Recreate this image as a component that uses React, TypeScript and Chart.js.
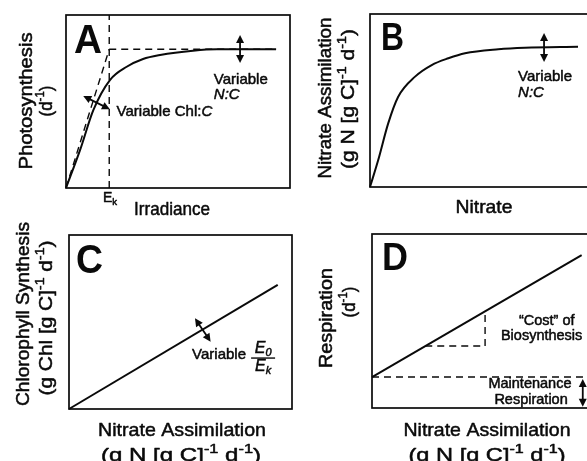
import React, { useEffect, useRef } from "react";
import { Chart, registerables } from "chart.js";
Chart.register(...registerables);

const W = 600;
const H = 461;
const FONT = '"Liberation Sans", Arial, Helvetica, sans-serif';

// ---------- Panel A: photosynthesis vs irradiance ----------
const A_IRRADIANCE = [0, 6.3, 12.2, 19.6, 27.1, 34.4, 42, 56.7, 67.4, 93.8];
const A_PHOTOSYNTHESIS = [0, 22, 45, 62.4, 70.1, 74.6, 76.9, 79.4, 80.2, 80.2];
const A_EK = 19.3;
const A_PMAX = 80.2;
const A_PMAX_END = 93.8;
const A_CHL_ARROW = [[7.7, 53.2], [19.6, 45.5]];
const A_NC_ARROW = [[77.7, 88.4], [77.7, 72.3]];

// ---------- Panel B: nitrate assimilation vs nitrate ----------
const B_NITRATE = [0, 3.7, 8.2, 12.7, 20.3, 27.8, 35.3, 42.8, 57.8, 69.8, 93.7];
const B_ASSIMILATION = [0, 15.6, 36.8, 52.2, 63.8, 70.5, 74.4, 77.3, 79.6, 80.5, 81.1];
const B_NC_ARROW = [[78.4, 89], [78.4, 72.3]];

// ---------- Panel C: chlorophyll synthesis vs nitrate assimilation ----------
const C_ASSIMILATION = [0, 93.6];
const C_CHL_SYNTHESIS = [0, 71.3];
const C_ARROW = [[56.5, 52.1], [63.5, 38.7]];

// ---------- Panel D: respiration vs nitrate assimilation ----------
const D_ASSIMILATION = [0, 95.3];
const D_RESPIRATION = [17.8, 87.9];
const D_MAINTENANCE = 17.8;
const D_MAINT_END = 95.9;
const D_COST_X = [24.2, 51.4, 51.4];
const D_COST_Y = [35.6, 35.6, 55.6];
const D_MAINT_ARROW = [[95.8, 16.7], [95.8, 0.7]];

type Seg = { t: string; sup?: boolean; sub?: boolean; it?: boolean };
type Txt = {
  segs: Seg[];
  x: number;
  y: number;
  size: number;
  align?: "left" | "center";
  rot?: boolean;
  data?: boolean;
  bold?: boolean;
  baseline?: CanvasTextBaseline;
  w?: number;
};
type Panel = {
  area: [number, number, number, number];
  datasets: any[];
  arrows: number[][][];
  texts: Txt[];
  extra?: (ctx: CanvasRenderingContext2D, px: (v: number) => number, py: (v: number) => number) => void;
};

const INK = "#0a0a0a";

function segFont(s: Seg, size: number, bold?: boolean) {
  const small = s.sup || s.sub;
  const sz = small ? size * 0.68 : size;
  return `${s.it ? "italic " : ""}${bold ? "bold " : ""}${sz}px ${FONT}`;
}

function drawRich(ctx: CanvasRenderingContext2D, t: Txt, x: number, y: number) {
  ctx.save();
  ctx.translate(x, y);
  if (t.rot) ctx.rotate(-Math.PI / 2);
  ctx.fillStyle = INK;
  ctx.strokeStyle = INK;
  ctx.lineWidth = t.bold ? 0 : 0.5;
  ctx.lineJoin = "round";
  ctx.textAlign = "left";
  ctx.textBaseline = t.baseline || "middle";
  let total = 0;
  for (const s of t.segs) {
    ctx.font = segFont(s, t.size, t.bold);
    total += ctx.measureText(s.t).width;
  }
  if (t.w) ctx.scale(t.w / total, 1);
  let cx = t.align === "center" || t.align === undefined ? -total / 2 : 0;
  for (const s of t.segs) {
    ctx.font = segFont(s, t.size, t.bold);
    const dy = s.sup ? -t.size * 0.33 : s.sub ? t.size * 0.28 : 0;
    ctx.fillText(s.t, cx, dy);
    if (!t.bold) ctx.strokeText(s.t, cx, dy);
    cx += ctx.measureText(s.t).width;
  }
  ctx.restore();
}

function drawArrow(ctx: CanvasRenderingContext2D, x1: number, y1: number, x2: number, y2: number) {
  const ang = Math.atan2(y2 - y1, x2 - x1);
  const hl = 8;
  const hw = 4;
  ctx.save();
  ctx.strokeStyle = INK;
  ctx.fillStyle = INK;
  ctx.lineWidth = 1.8;
  ctx.setLineDash([]);
  ctx.beginPath();
  ctx.moveTo(x1 + Math.cos(ang) * (hl - 1), y1 + Math.sin(ang) * (hl - 1));
  ctx.lineTo(x2 - Math.cos(ang) * (hl - 1), y2 - Math.sin(ang) * (hl - 1));
  ctx.stroke();
  const head = (hx: number, hy: number, a: number) => {
    ctx.beginPath();
    ctx.moveTo(hx, hy);
    ctx.lineTo(hx - Math.cos(a) * hl + Math.sin(a) * hw, hy - Math.sin(a) * hl - Math.cos(a) * hw);
    ctx.lineTo(hx - Math.cos(a) * hl - Math.sin(a) * hw, hy - Math.sin(a) * hl + Math.cos(a) * hw);
    ctx.closePath();
    ctx.fill();
  };
  head(x2, y2, ang);
  head(x1, y1, ang + Math.PI);
  ctx.restore();
}

const pts = (xs: number[], ys: number[]) => xs.map((x, i) => ({ x, y: ys[i] }));

const solid = (data: any[], smooth = false) => ({
  data,
  showLine: true,
  borderColor: INK,
  borderWidth: 2,
  pointRadius: 0,
  fill: false,
  clip: 10,
  cubicInterpolationMode: smooth ? "monotone" : "default",
  tension: 0,
});
const dashed = (data: any[]) => ({
  data,
  showLine: true,
  borderColor: INK,
  borderWidth: 1.4,
  borderDash: [7, 5],
  pointRadius: 0,
  fill: false,
  clip: 10,
  tension: 0,
});

const GNC: Seg[] = [{ t: "(g N [g C]" }, { t: "-1", sup: true }, { t: " d" }, { t: "-1", sup: true }, { t: ")" }];
const DINV: Seg[] = [{ t: "(d" }, { t: "-1", sup: true }, { t: ")" }];

const PANELS: Panel[] = [
  {
    area: [66, 15, 290, 188],
    datasets: [
      solid(pts(A_IRRADIANCE, A_PHOTOSYNTHESIS), true),
      dashed([{ x: 0, y: 0 }, { x: A_EK, y: A_PMAX }]),
      dashed([{ x: A_EK, y: 0 }, { x: A_EK, y: 100 }]),
      dashed([{ x: A_EK, y: A_PMAX }, { x: A_PMAX_END, y: A_PMAX }]),
    ],
    arrows: [A_CHL_ARROW, A_NC_ARROW],
    texts: [
      { segs: [{ t: "A" }], x: 74, y: 53, size: 40, align: "left", baseline: "alphabetic", bold: true, w: 28 },
      { segs: [{ t: "Photosynthesis" }], x: 27, y: 101, size: 19, rot: true, w: 137 },
      { segs: DINV, x: 47, y: 101, size: 19, rot: true, w: 31 },
      { segs: [{ t: "Irradiance" }], x: 172, y: 210, size: 19, w: 76 },
      { segs: [{ t: "E" }, { t: "k", sub: true }], x: 103, y: 198, size: 14, align: "left" },
      { segs: [{ t: "Variable Chl:" }, { t: "C", it: true }], x: 22.6, y: 43.9, size: 15, align: "left", data: true },
      { segs: [{ t: "Variable" }], x: 66, y: 62.7, size: 15, align: "left", data: true },
      { segs: [{ t: "N:C", it: true }], x: 66, y: 53.6, size: 15, align: "left", data: true },
    ],
  },
  {
    area: [370, 14, 592, 187],
    datasets: [solid(pts(B_NITRATE, B_ASSIMILATION), true)],
    arrows: [B_NC_ARROW],
    texts: [
      { segs: [{ t: "B" }], x: 381, y: 50, size: 39, align: "left", baseline: "alphabetic", bold: true, w: 23 },
      { segs: [{ t: "Nitrate Assimilation" }], x: 326, y: 98, size: 19, rot: true, w: 161 },
      { segs: GNC, x: 349, y: 99, size: 19, rot: true, w: 140 },
      { segs: [{ t: "Nitrate" }], x: 484, y: 208, size: 19, w: 57 },
      { segs: [{ t: "Variable" }], x: 66.7, y: 63.6, size: 15, align: "left", data: true },
      { segs: [{ t: "N:C", it: true }], x: 66.7, y: 54.3, size: 15, align: "left", data: true },
    ],
  },
  {
    area: [69, 235, 292, 409],
    datasets: [solid(pts(C_ASSIMILATION, C_CHL_SYNTHESIS))],
    arrows: [C_ARROW],
    texts: [
      { segs: [{ t: "C" }], x: 76, y: 273, size: 40, align: "left", baseline: "alphabetic", bold: true, w: 27 },
      { segs: [{ t: "Chlorophyll Synthesis" }], x: 24, y: 314, size: 19, rot: true, w: 184 },
      { segs: [{ t: "(g Chl [g C]" }, { t: "-1", sup: true }, { t: " d" }, { t: "-1", sup: true }, { t: ")" }], x: 47, y: 318, size: 19, rot: true, w: 155 },
      { segs: [{ t: "Nitrate Assimilation" }], x: 182, y: 431, size: 19, w: 168 },
      { segs: GNC, x: 181, y: 456, size: 19, w: 160 },
      { segs: [{ t: "Variable" }], x: 55.2, y: 31, size: 15, align: "left", data: true },
    ],
    extra: (ctx, px, py) => {
      const x0 = px(55.2) + 59;
      const y0 = py(31);
      const seg: Txt = { segs: [{ t: "E", it: true }, { t: "0", it: true, sub: true }], x: 0, y: 0, size: 16 };
      drawRich(ctx, seg, x0 + 12, y0 - 7);
      drawRich(ctx, { ...seg, segs: [{ t: "E", it: true }, { t: "k", it: true, sub: true }] }, x0 + 12, y0 + 11);
      ctx.save();
      ctx.strokeStyle = INK;
      ctx.lineWidth = 1.4;
      ctx.beginPath();
      ctx.moveTo(x0, y0 + 3);
      ctx.lineTo(x0 + 24, y0 + 3);
      ctx.stroke();
      ctx.restore();
    },
  },
  {
    area: [372, 234, 592, 408],
    datasets: [
      solid(pts(D_ASSIMILATION, D_RESPIRATION)),
      dashed([{ x: 0, y: D_MAINTENANCE }, { x: D_MAINT_END, y: D_MAINTENANCE }]),
      dashed(pts(D_COST_X, D_COST_Y)),
    ],
    arrows: [D_MAINT_ARROW],
    texts: [
      { segs: [{ t: "D" }], x: 382, y: 270, size: 38, align: "left", baseline: "alphabetic", bold: true, w: 26 },
      { segs: [{ t: "Respiration" }], x: 327, y: 318, size: 19, rot: true, w: 100 },
      { segs: DINV, x: 350, y: 302, size: 19, rot: true, w: 31 },
      { segs: [{ t: "Nitrate Assimilation" }], x: 487, y: 431, size: 19, w: 167 },
      { segs: GNC, x: 487, y: 456, size: 19, w: 157 },
      { segs: [{ t: "\u201cCost\u201d of" }], x: 79.4, y: 50.2, size: 14.5, data: true },
      { segs: [{ t: "Biosynthesis" }], x: 77.1, y: 41.4, size: 14.5, data: true },
      { segs: [{ t: "Maintenance" }], x: 71.8, y: 13.8, size: 14.5, data: true },
      { segs: [{ t: "Respiration" }], x: 72.3, y: 4.6, size: 14.5, data: true },
    ],
  },
];

function makeChart(canvas: HTMLCanvasElement, p: Panel) {
  const [l, t, r, b] = p.area;
  const deco = {
    id: "deco",
    afterDraw(chart: any) {
      const ctx: CanvasRenderingContext2D = chart.ctx;
      const a = chart.chartArea;
      const px = (v: number) => chart.scales.x.getPixelForValue(v);
      const py = (v: number) => chart.scales.y.getPixelForValue(v);
      ctx.save();
      ctx.strokeStyle = INK;
      ctx.lineWidth = 1.7;
      ctx.setLineDash([]);
      ctx.strokeRect(a.left, a.top, a.right - a.left, a.bottom - a.top);
      ctx.restore();
      for (const ar of p.arrows) drawArrow(ctx, px(ar[0][0]), py(ar[0][1]), px(ar[1][0]), py(ar[1][1]));
      for (const tx of p.texts) {
        const x = tx.data ? px(tx.x) : tx.x;
        const y = tx.data ? py(tx.y) : tx.y;
        drawRich(ctx, tx, x, y);
      }
      if (p.extra) p.extra(ctx, px, py);
    },
  };
  return new Chart(canvas, {
    type: "scatter",
    data: { datasets: p.datasets },
    options: {
      animation: false,
      responsive: false,
      maintainAspectRatio: false,
      events: [],
      layout: { padding: { left: l, top: t, right: W - r, bottom: H - b } },
      plugins: { legend: { display: false }, tooltip: { enabled: false }, title: { display: false } },
      scales: {
        x: { type: "linear", min: 0, max: 100, display: false },
        y: { type: "linear", min: 0, max: 100, display: false },
      },
      elements: { point: { radius: 0 } },
    },
    plugins: [deco],
  } as any);
}

export default function App() {
  const r0 = useRef<HTMLCanvasElement>(null);
  const r1 = useRef<HTMLCanvasElement>(null);
  const r2 = useRef<HTMLCanvasElement>(null);
  const r3 = useRef<HTMLCanvasElement>(null);
  const refs = [r0, r1, r2, r3];
  useEffect(() => {
    const charts = PANELS.map((p, i) => makeChart(refs[i].current as HTMLCanvasElement, p));
    return () => charts.forEach((c) => c.destroy());
  }, []);
  return (
    <div style={{ position: "fixed", left: 0, top: 0, width: 587, height: 461, overflow: "hidden", background: "#fff" }}>
      {PANELS.map((_, i) => (
        <canvas
          key={i}
          ref={refs[i]}
          width={W}
          height={H}
          style={{ position: "absolute", left: 0, top: 0, width: W, height: H }}
        />
      ))}
    </div>
  );
}
